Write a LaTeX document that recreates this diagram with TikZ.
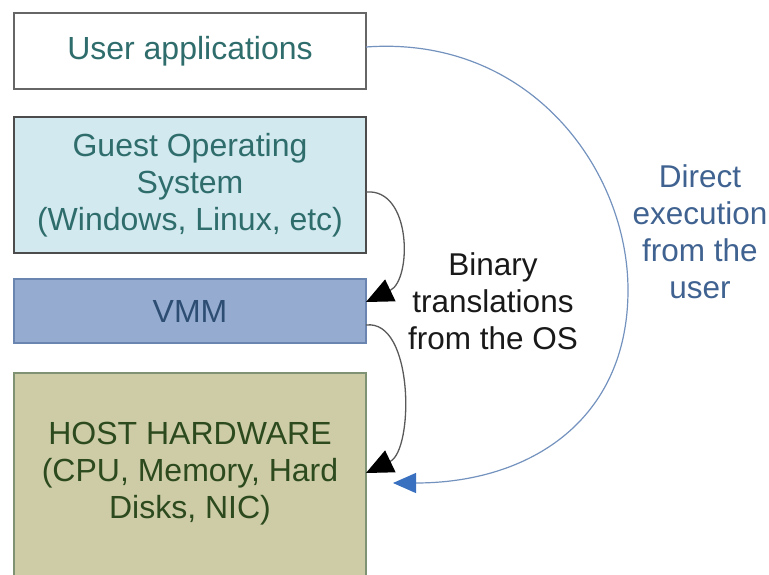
\documentclass[tikz,border=0pt]{standalone}
\usepackage{fontspec}
\setmainfont{Liberation Sans}
\usepackage{xcolor}
\usetikzlibrary{calc}
\usetikzlibrary{arrows.meta}
\definecolor{guestfill}{HTML}{D2E9EF}
\definecolor{vmmfill}{HTML}{95ACD0}
\definecolor{vmmline}{HTML}{6A86B0}
\definecolor{hostfill}{HTML}{CDCCA6}
\definecolor{hostline}{HTML}{7F9274}
\definecolor{tealtext}{HTML}{2F6D6C}
\definecolor{vmmtext}{HTML}{2D4D72}
\definecolor{hosttext}{HTML}{2C4A1E}
\definecolor{directtext}{HTML}{3F6290}
\definecolor{bluearc}{HTML}{7392BE}
\definecolor{bluetip}{HTML}{3A70C0}
\tikzset{%
    layer/.style={inner sep=0pt,outer sep=0pt,shape=rectangle,draw,line width=2pt,minimum width=352pt,align=center,font=\fontsize{32}{37}\selectfont},
    caption/.style={align=center,font=\fontsize{31.5}{37}\selectfont},
    trans/.style={-{Triangle[length=27pt,width=24pt,fill=black,color=black]},line width=1.3pt,draw=black!65},
    direct/.style={-{Triangle[length=23pt,width=20pt,fill=bluetip,color=bluetip]},line width=1.2pt,draw=bluearc},
}
\begin{document}
\begin{tikzpicture}[x=1pt,y=-1pt]
        \useasboundingbox (0,0) rectangle (769,574);
        \node [layer,draw=black!60,fill=white,text=tealtext,minimum height=76pt] (user) at (190,51) {User applications};
        \node [layer,draw=black!70,fill=guestfill,text=tealtext,minimum height=136pt] (guest) at (190,185) {Guest Operating\\System\\(Windows, Linux, etc)};
        \node [layer,draw=vmmline,fill=vmmfill,text=vmmtext,minimum height=64pt] (vmm) at (190,311) {VMM};
        \node [layer,draw=hostline,fill=hostfill,minimum height=240pt] (host) at (190,493) {};
        \node [layer,draw=none,fill=none,text=hosttext] (hosttext) at (190,474) {HOST HARDWARE\\(CPU, Memory, Hard\\Disks, NIC)};

        \node [caption,text=black!90] (binary) at (493,301) {Binary\\translations\\from the OS};
        \node [caption,text=directtext] (directlbl) at (700,232) {Direct\\execution\\from the\\user};

        % translations through the VMM
        \draw [trans] ([yshift=-7pt]guest.east) .. controls +(46,-4) and (412,280) .. ([yshift=9pt]vmm.east);
        \draw [trans] ([yshift=-14pt]vmm.east) .. controls +(48,-6) and (414,450) .. ([yshift=20pt]host.east);

        % direct path from the user
        \coordinate (userend) at (393,483);
        \draw [direct] ([yshift=4pt]user.east) .. controls (530,35) and (628,170) .. (628,290)
            .. controls (628,420) and (530,483) .. (userend);
\end{tikzpicture}
\end{document}
